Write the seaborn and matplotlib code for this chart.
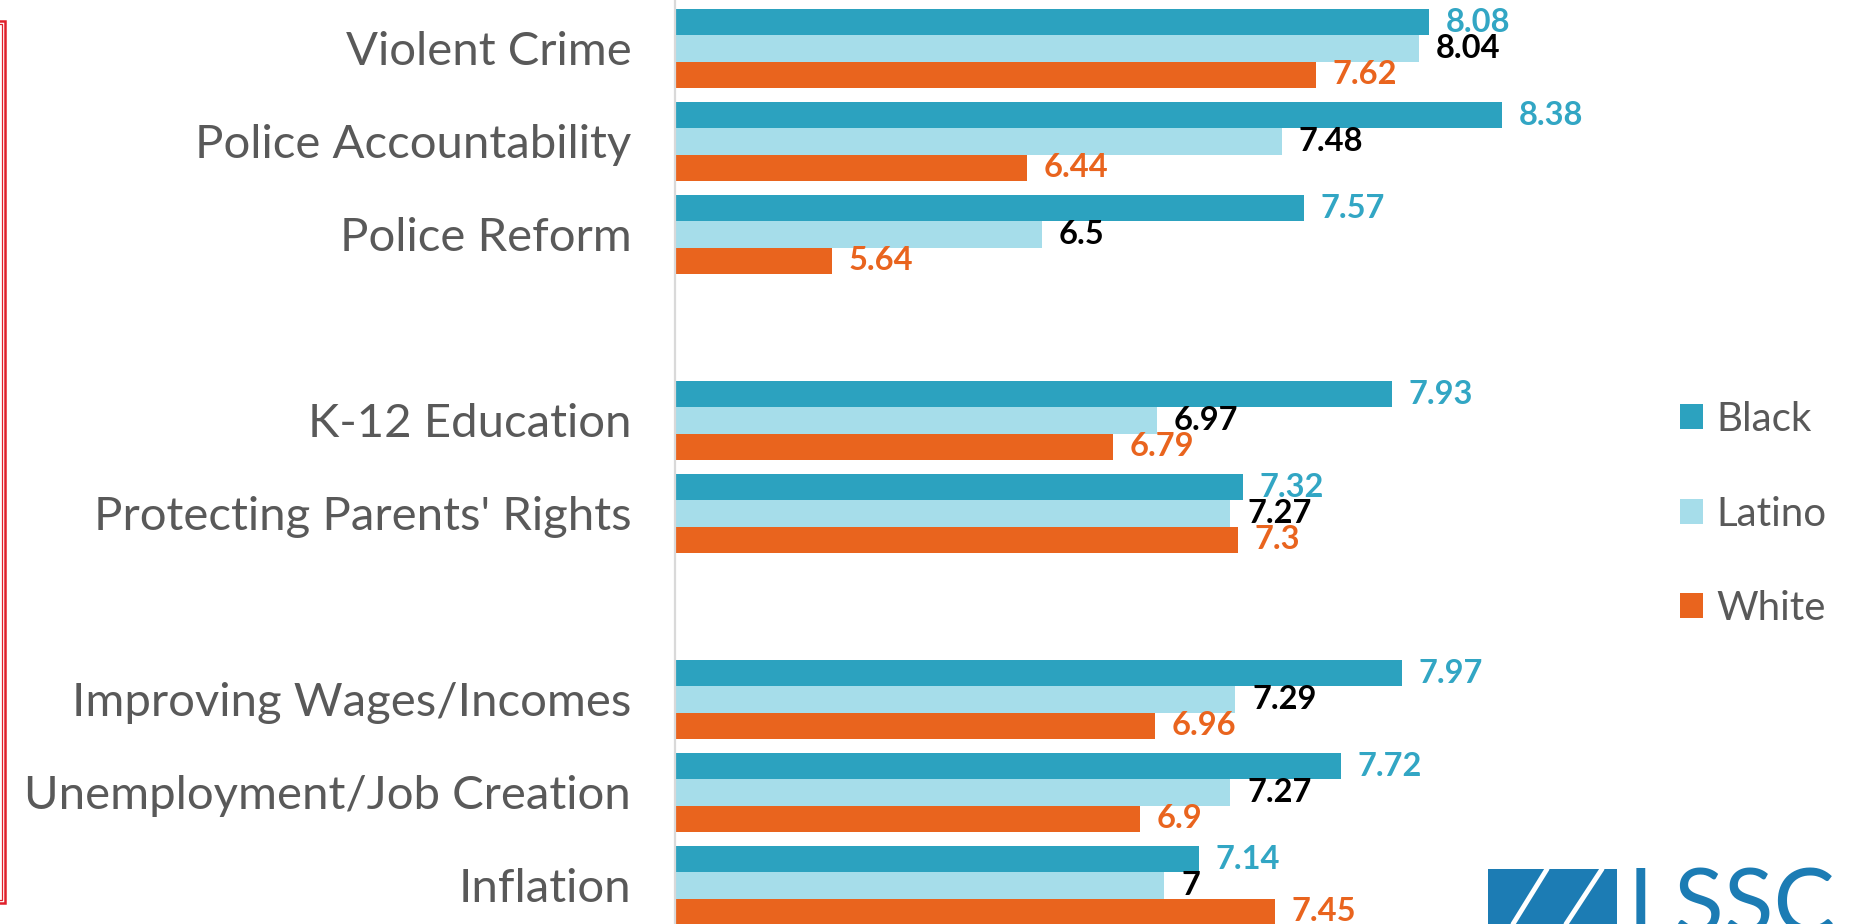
import pandas as pd
import matplotlib
matplotlib.use('Agg')
import matplotlib.pyplot as plt
import seaborn as sns
from matplotlib.patches import Patch, Rectangle
from matplotlib.lines import Line2D

# Chart data (blank entries are spacer rows between topic blocks)
categories = ["Violent Crime", "Police Accountability", "Police Reform", " ",
              "K-12 Education", "Protecting Parents' Rights", "  ",
              "Improving Wages/Incomes", "Unemployment/Job Creation", "Inflation"]
groups = ["Black", "Latino", "White"]
black = [8.08, 8.38, 7.57, None, 7.93, 7.32, None, 7.97, 7.72, 7.14]
latino = [8.04, 7.48, 6.5, None, 6.97, 7.27, None, 7.29, 7.27, 7.0]
white = [7.62, 6.44, 5.64, None, 6.79, 7.3, None, 6.96, 6.9, 7.45]

bar_colors = ['#2CA2BF', '#A6DDEA', '#E9641E']
label_colors = ['#32A6C4', '#000000', '#E9641E']
GREY = '#595959'

rows = []
for g, vals in zip(groups, [black, latino, white]):
    for c, v in zip(categories, vals):
        if v is not None:
            rows.append({'category': c, 'group': g, 'value': v})
df = pd.DataFrame(rows)

sns.set_style('white')
plt.rcParams['font.family'] = ['Lato', 'DejaVu Sans']

W, H = 1857, 924
fig = plt.figure(figsize=(W / 100, H / 100), dpi=100)

# plot area: x axis starts at 5, 244.7 px per unit
x0_px, px_per_unit = 675, 244.7
xmax = 8.9
ax = fig.add_axes([x0_px / W, 0, (xmax - 5) * px_per_unit / W, 1])

sns.barplot(data=df, y='category', x='value', hue='group', order=categories,
            hue_order=groups, palette=bar_colors, orient='h', width=0.85,
            saturation=1, linewidth=0, legend=False, ax=ax)

ax.set_xlim(5, xmax)
ax.set_ylim(9.414, -0.5215)

for cont, col in zip(ax.containers, label_colors):
    ax.bar_label(cont, fmt='{:g}', padding=12, color=col, fontsize=23.5,
                 fontweight='bold', clip_on=False)

for s in ['top', 'right', 'bottom']:
    ax.spines[s].set_visible(False)
ax.spines['left'].set_color('#D9D9D9')
ax.spines['left'].set_linewidth(1.6)
ax.set_xticks([])
ax.set_xlabel('')
ax.set_ylabel('')
ax.tick_params(axis='y', length=0, pad=31.5, labelsize=34, labelcolor=GREY)

# legend
handles = [Patch(facecolor=c, edgecolor='none') for c in bar_colors]
fig.legend(handles, groups, loc='center left', bbox_to_anchor=(1680 / W, 1 - 514 / H),
           frameon=False, fontsize=29, labelcolor=GREY, handlelength=0.58,
           handleheight=0.58, handletextpad=0.33, labelspacing=1.43,
           borderpad=0, borderaxespad=0)

# red frame edge on the left
fig.patches.append(Rectangle((-20 / W, 1 - 903 / H), 25 / W, 882 / H, transform=fig.transFigure,
                             fill=False, edgecolor='#E0202A', linewidth=1.8))
fig.patches.append(Rectangle((-20 / W, 1 - 900 / H), 21.5 / W, 876 / H, transform=fig.transFigure,
                             fill=False, edgecolor='#E0202A', linewidth=0.9))

# logo, bottom right
logo_blue = '#1C7CB4'
fig.patches.append(Rectangle((1488 / W, -0.02), (1617 - 1488) / W, (924 - 869) / H + 0.02,
                             transform=fig.transFigure, facecolor=logo_blue, edgecolor='none'))
for xt, xb in [(1547, 1513), (1602, 1566)]:
    fig.lines.append(Line2D([xt / W, xb / W], [1 - 869 / H, 1 - 924 / H], transform=fig.transFigure,
                            color='white', linewidth=3.5))
fig.text(1628 / W, 1 - 933 / H, 'LSSC', fontsize=66, fontweight='normal', color=logo_blue,
         ha='left', va='baseline')

fig.savefig('out.png', dpi=100)
